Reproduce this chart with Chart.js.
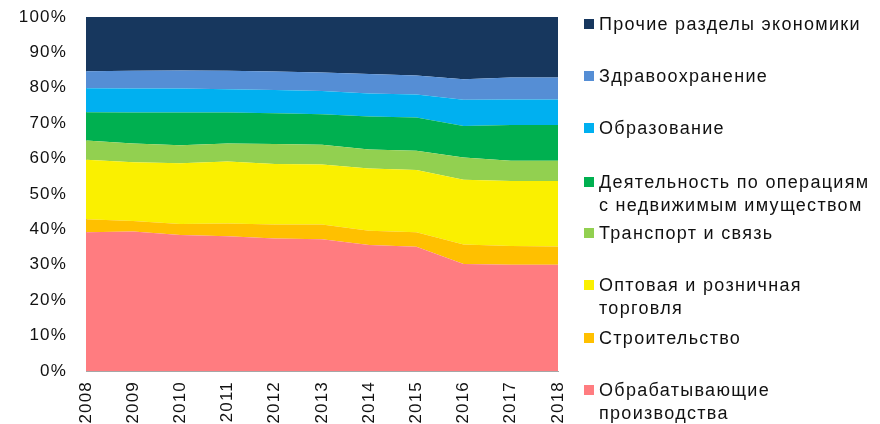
<!DOCTYPE html>
<html>
<head>
<meta charset="utf-8">
<script src="https://cdn.jsdelivr.net/npm/chart.js@4.4.1/dist/chart.umd.min.js"></script>
<style>
  html, body { margin: 0; padding: 0; background: #fff; overflow: hidden; }
  #wrap { position: relative; width: 880px; height: 424px; }
  #legend { position: absolute; left: 0; top: 0; font-family: "Liberation Sans", Arial, sans-serif; font-size: 18px; letter-spacing: 1.3px; color: #111; }
  .item { position: absolute; left: 584px; white-space: nowrap; line-height: 23px; }
  .sw { position: absolute; left: 0; top: 6px; width: 10px; height: 10px; }
  .txt { position: absolute; left: 15px; top: 0; }
</style>
</head>
<body>
<div id="wrap">
  <canvas id="areaChart" width="880" height="424"></canvas>
  <div id="legend"></div>
</div>
<script>
var years = ["2008", "2009", "2010", "2011", "2012", "2013", "2014", "2015", "2016", "2017", "2018"];
var yTicks = [0, 10, 20, 30, 40, 50, 60, 70, 80, 90, 100];

// shares, % (bottom to top)
var manufacturing = [39.2, 39.4, 38.4, 38.1, 37.4, 37.2, 35.6, 35.1, 30.2, 30.0, 30.0];
var construction  = [3.7, 3.0, 3.1, 3.6, 4.0, 4.2, 4.0, 4.1, 5.5, 5.3, 5.2];
var trade         = [16.8, 16.6, 17.2, 17.5, 17.1, 16.9, 17.6, 17.6, 18.3, 18.4, 18.5];
var transport     = [5.4, 5.3, 5.1, 5.1, 5.6, 5.6, 5.4, 5.4, 6.3, 5.7, 5.7];
var realEstate    = [8.0, 8.7, 9.2, 8.7, 8.7, 8.6, 9.3, 9.4, 8.9, 10.1, 10.1];
var education     = [6.8, 6.8, 6.8, 6.6, 6.6, 6.6, 6.5, 6.5, 7.4, 7.2, 7.2];
var health        = [4.8, 5.0, 5.1, 5.2, 5.2, 5.2, 5.5, 5.4, 5.8, 6.2, 6.2];
var other         = [15.3, 15.2, 15.1, 15.2, 15.4, 15.7, 16.1, 16.5, 17.6, 17.1, 17.1];

var seriesNames = [
  ["Обрабатывающие", "производства"],
  ["Строительство"],
  ["Оптовая и розничная", "торговля"],
  ["Транспорт и связь"],
  ["Деятельность по операциям", "с недвижимым имуществом"],
  ["Образование"],
  ["Здравоохранение"],
  ["Прочие разделы экономики"]
];
var seriesData = [manufacturing, construction, trade, transport, realEstate, education, health, other];
var seriesColors = ["#FF7C80", "#FFC000", "#FAF000", "#92D050", "#00B050", "#00B0F0", "#558ED5", "#17375E"];
var legendTops = [379, 327, 274, 222, 171, 117, 65, 13];

var datasets = seriesData.map(function (d, i) {
  return {
    label: seriesNames[i].join(" "),
    data: d,
    backgroundColor: seriesColors[i],
    borderWidth: 0,
    pointRadius: 0,
    tension: 0,
    fill: i === 0 ? "origin" : "-1"
  };
});

var legend = document.getElementById("legend");
seriesNames.forEach(function (name, i) {
  var it = document.createElement("div");
  it.className = "item";
  it.style.top = legendTops[i] + "px";
  it.innerHTML = '<span class="sw" style="background:' + seriesColors[i] + '"></span>' +
    '<span class="txt">' + name.join("<br>") + '</span>';
  legend.appendChild(it);
});

// wider tick text, like the original picture
var spacing = {
  id: "spacing",
  beforeUpdate: function (chart) { chart.ctx.letterSpacing = "1.2px"; },
  beforeDraw: function (chart) { chart.ctx.letterSpacing = "1.2px"; }
};

Chart.defaults.font.family = '"Liberation Sans", Arial, sans-serif';
Chart.defaults.font.size = 17;
Chart.defaults.color = "#111";

var ctx = document.getElementById("areaChart");
var areaChart = new Chart(ctx, {
  type: "line",
  data: { labels: years, datasets: datasets },
  plugins: [spacing],
  options: {
    responsive: false,
    animation: false,
    layout: { padding: { top: 17, right: 322, left: 0, bottom: 0 } },
    plugins: { legend: { display: false }, tooltip: { enabled: false } },
    scales: {
      x: {
        offset: false,
        grid: { display: false, drawTicks: false },
        border: { display: true, color: "#A6A6A6", width: 1 },
        ticks: { minRotation: 90, maxRotation: 90, padding: 10, autoSkip: false },
        afterFit: function (s) {
          s.height = 53;
          s.paddingLeft = 0; s.paddingRight = 0; s.paddingTop = 0; s.paddingBottom = 0;
        }
      },
      y: {
        stacked: true,
        min: 0,
        max: 100,
        afterBuildTicks: function (s) { s.ticks = yTicks.map(function (v) { return { value: v }; }); },
        grid: { display: false, drawTicks: false },
        border: { display: true, color: "#A6A6A6", width: 1 },
        ticks: { padding: 19, callback: function (v) { return v + "%"; } },
        afterFit: function (s) {
          s.width = 86;
          s.paddingTop = 0; s.paddingBottom = 0;
        }
      }
    }
  }
});
</script>
</body>
</html>
